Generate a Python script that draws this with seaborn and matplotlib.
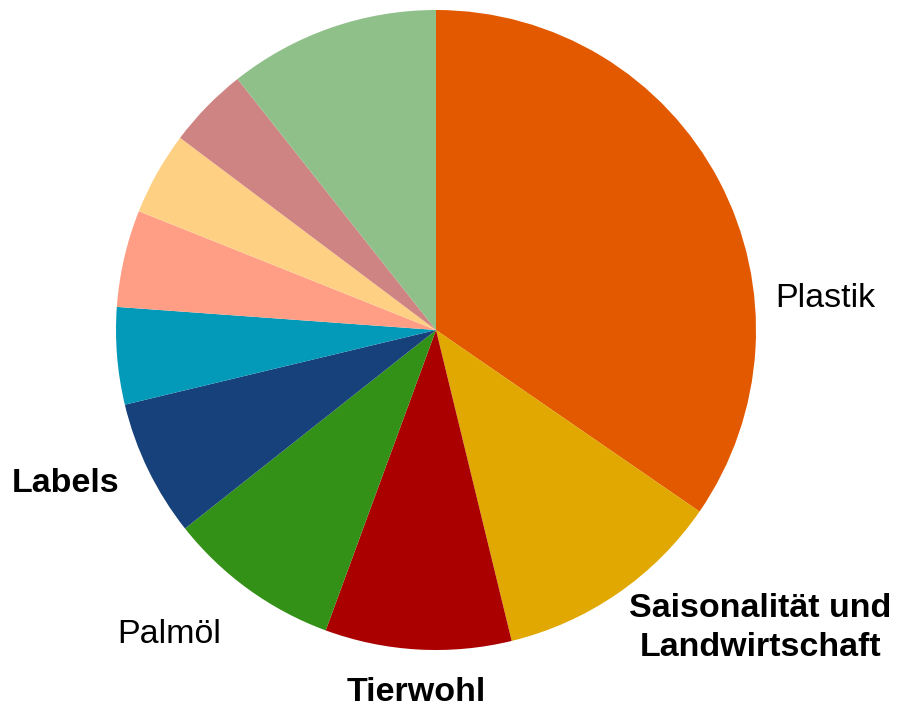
import numpy as np
import seaborn as sns
import matplotlib.pyplot as plt

sns.set_theme(style="white")
plt.rcParams["font.family"] = ["Liberation Sans", "DejaVu Sans"]

# Daten
themen = ["Plastik", "Saisonalität und\nLandwirtschaft", "Tierwohl", "Palmöl", "Labels",
          "", "", "", "", ""]
anteile = [34.6, 11.6, 9.4, 8.75, 6.9, 4.9, 4.9, 4.2, 4.1, 10.65]
fett = [False, True, True, False, True, False, False, False, False, False]
farben = ["#E35900", "#E0A800", "#AA0000", "#349117", "#16417A",
          "#029AB8", "#FF9E85", "#FED084", "#CF8484", "#8FC089"]

fig = plt.figure(figsize=(8.99, 7.09), dpi=100)
ax = fig.add_axes([0, 0, 1, 1])

wedges, texts = ax.pie(anteile, labels=themen, colors=farben, startangle=90,
                       counterclock=False, labeldistance=1.1,
                       wedgeprops={"linewidth": 0},
                       textprops={"fontsize": 24.5, "color": "black"})

for t, b in zip(texts, fett):
    t.set_fontweight("bold" if b else "normal")
    t.set_multialignment("center")

def verschieben(t, dx, dy):
    x, y = t.get_position()
    t.set_position((x + dx, y + dy))

# Plastik rechts neben dem Kreis
texts[0].set_position((1.06, 0.10))
# Saisonalität
texts[1].set_linespacing(1.35)
verschieben(texts[1], -0.02, -0.025)
# Tierwohl mittig unter dem Kreis
texts[2].set_ha("center")
verschieben(texts[2], 0, -0.035)
# Palmöl
verschieben(texts[3], -0.025, -0.06)

ax.set_xlim(-436 / 320, 463 / 320)
ax.set_ylim(-379 / 320, 330 / 320)
ax.set_aspect("auto")
ax.axis("off")

fig.savefig("out.png", dpi=100)
